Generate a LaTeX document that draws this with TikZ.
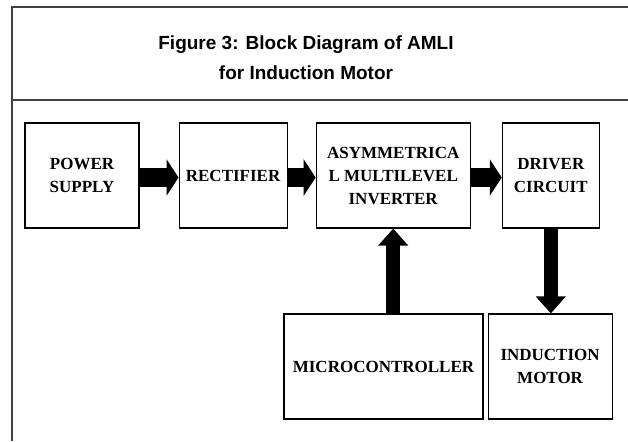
\documentclass[tikz,border=0pt]{standalone}
\usepackage{fontspec}
\setmainfont{Liberation Serif}
\newfontfamily\titlefont{Liberation Sans}
\usetikzlibrary{arrows.meta,positioning}

\begin{document}
\begin{tikzpicture}[x=1pt,y=-1pt]
\tikzstyle{blk}=[draw,line width=1.1pt,minimum height=105pt,inner sep=2pt,align=center,font=\fontsize{17}{23}\selectfont\bfseries]
\tikzstyle{fat}=[line width=19pt,-{Triangle[length=12pt 0,width=36pt 0]}]
\tikzstyle{fatv}=[line width=14pt,-{Triangle[length=17pt 0,width=29pt 0]}]
\useasboundingbox (0,0) rectangle (628,441);
% frame
\draw[line width=1.3pt,black!75] (628,7) -- (12,7) -- (12,441);
\draw[line width=1.3pt,black!75] (12,100) -- (628,100);
\node[font=\titlefont\fontsize{19}{30}\selectfont\bfseries,align=center] (title) at (306,58) {Figure 3: Block Diagram of AMLI\\for Induction Motor};
% blocks
\node[blk,minimum width=114pt] (ps) at (82,175.5) {POWER\\SUPPLY};
\node[blk,minimum width=108pt,right=39pt of ps] (rect) {RECTIFIER};
\node[blk,minimum width=154pt,right=28pt of rect] (inv) {ASYMMETRICA\\L MULTILEVEL\\INVERTER};
\node[blk,minimum width=97pt,right=31pt of inv] (drv) {DRIVER\\CIRCUIT};
\node[blk,minimum width=199pt] (mc) at (383.5,366.5) {MICROCONTROLLER};
\node[blk,minimum width=124pt,right=4pt of mc] (im) {INDUCTION\\MOTOR};
% arrows
\draw[fat] ([yshift=-2pt]ps.east) -- ([yshift=-2pt]rect.west);
\draw[fat] ([yshift=-2pt]rect.east) -- ([yshift=-2pt]inv.west);
\draw[fat] ([yshift=-2pt]inv.east) -- ([yshift=-2pt]drv.west);
\draw[fatv] (mc.north -| inv.south) -- (inv.south);
\draw[fatv] (drv.south) -- (drv.south |- im.north);
\end{tikzpicture}
\end{document}
